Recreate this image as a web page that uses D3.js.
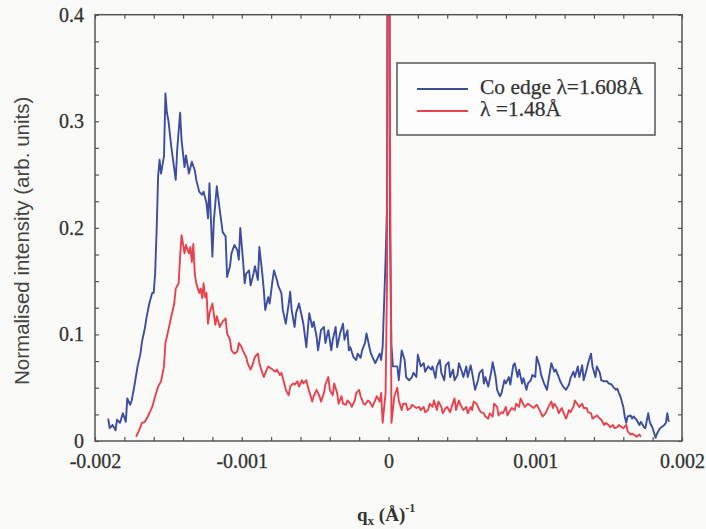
<!DOCTYPE html>
<html>
<head>
<meta charset="utf-8">
<script src="https://cdn.jsdelivr.net/npm/d3@7/dist/d3.min.js"></script>
<style>
  html, body { margin: 0; padding: 0; background: #fafaf8; }
  svg { display: block; }
</style>
</head>
<body>
<svg id="chart" width="706" height="529"></svg>
<script>
// ---------------- DATA ----------------
// q_x positions are given in units of 1e-5 Å^-1
const seriesNames = ["Co edge \u03bb=1.608\u00c5", "\u03bb =1.48\u00c5"];
const seriesColors = ["#3d4e9f", "#e8424f"];

const blueQ = [-191,-190,-188,-186,-185,-183,-181,-179,-178,-176,-175,-173,-171,-169,-168,-166,-165,-163,-161,-160,-159,-158,-157,-156,-155,-153,-152,-151,-150,-148,-145,-144,-142,-141,-139,-138,-136,-134,-132,-131,-129,-127,-126,-124,-123,-122,-120,-119,-117,-115,-113,-111,-110,-108,-107,-105,-103,-102,-101,-99,-98,-97,-95,-94,-92,-91,-89,-88,-86,-85,-84,-82,-81,-79,-78,-76,-75,-73,-72,-70,-68,-67,-66,-64,-63,-61,-60,-58,-56,-55,-54,-52,-51,-49,-48,-46,-44,-43,-41,-39,-38,-36,-35,-33,-31,-30,-28,-27,-26,-24,-22,-21,-19,-18,-16,-15,-13,-12,-10,-9,-7,-6,-5,-4,-2,-1,0,1,2,3,6,7,9,11,12,14,16,17,19,20,22,24,25,27,29,30,32,33,35,36,38,39,41,42,44,45,47,48,50,51,53,54,56,57,59,61,62,64,65,66,68,70,71,73,74,76,77,79,80,82,83,85,86,88,89,91,92,94,95,97,98,100,101,103,104,106,108,109,111,113,114,116,117,119,121,123,124,126,127,129,130,132,133,135,136,138,139,141,142,144,145,147,149,150,152,153,155,156,157,158,160,161,162,163,165,166,167,169,171,172,174,175,177,178,179,180,182,183,185,186,188,189,190,191];
const blueI = [0.021,0.012,0.015,0.010,0.020,0.017,0.026,0.018,0.040,0.034,0.038,0.053,0.070,0.082,0.093,0.106,0.115,0.129,0.139,0.139,0.158,0.198,0.248,0.264,0.251,0.267,0.326,0.308,0.301,0.276,0.245,0.273,0.308,0.282,0.257,0.268,0.251,0.262,0.254,0.245,0.234,0.231,0.234,0.223,0.209,0.242,0.173,0.207,0.239,0.217,0.196,0.192,0.154,0.164,0.176,0.184,0.179,0.170,0.200,0.167,0.148,0.157,0.160,0.146,0.157,0.164,0.151,0.182,0.157,0.142,0.123,0.135,0.129,0.151,0.160,0.151,0.145,0.139,0.123,0.110,0.129,0.140,0.123,0.107,0.120,0.129,0.123,0.110,0.088,0.104,0.120,0.107,0.112,0.098,0.085,0.104,0.107,0.092,0.104,0.085,0.095,0.107,0.088,0.101,0.110,0.095,0.104,0.085,0.088,0.079,0.076,0.082,0.078,0.085,0.092,0.101,0.088,0.082,0.076,0.073,0.079,0.082,0.076,0.088,0.170,0.220,0.900,0.200,0.090,0.070,0.070,0.057,0.085,0.076,0.060,0.057,0.060,0.064,0.060,0.081,0.070,0.073,0.065,0.070,0.067,0.070,0.059,0.070,0.076,0.064,0.057,0.071,0.074,0.060,0.067,0.057,0.062,0.073,0.065,0.060,0.070,0.060,0.071,0.064,0.048,0.057,0.064,0.067,0.054,0.060,0.051,0.065,0.074,0.060,0.048,0.042,0.045,0.057,0.054,0.060,0.053,0.071,0.073,0.060,0.067,0.054,0.059,0.048,0.054,0.057,0.062,0.060,0.079,0.070,0.062,0.054,0.048,0.057,0.073,0.065,0.067,0.060,0.056,0.051,0.048,0.053,0.059,0.065,0.060,0.070,0.060,0.071,0.057,0.067,0.073,0.082,0.070,0.060,0.070,0.064,0.057,0.056,0.056,0.054,0.053,0.051,0.048,0.049,0.045,0.042,0.032,0.023,0.017,0.023,0.024,0.021,0.023,0.020,0.015,0.018,0.013,0.012,0.026,0.018,0.015,0.012,0.003,0.007,0.012,0.013,0.015,0.017,0.026,0.018];

const redQ = [-172,-170,-168,-166,-164,-161,-159,-157,-155,-153,-152,-150,-148,-146,-145,-143,-142,-141,-140,-139,-138,-136,-135,-134,-133,-132,-131,-129,-128,-127,-126,-125,-124,-123,-122,-120,-118,-117,-115,-113,-111,-110,-108,-107,-105,-103,-102,-100,-99,-97,-96,-94,-93,-91,-89,-88,-86,-85,-83,-82,-80,-79,-77,-76,-74,-73,-71,-70,-68,-67,-65,-64,-62,-61,-59,-58,-56,-55,-53,-52,-51,-49,-47,-46,-44,-43,-41,-40,-38,-37,-35,-34,-32,-31,-29,-28,-26,-25,-23,-22,-20,-19,-17,-16,-14,-13,-11,-10,-8,-6,-5,-4,-2,-1,0,1,2,4,6,7,9,10,12,13,15,16,18,19,21,22,24,25,27,28,30,31,33,34,36,37,39,40,42,43,45,46,48,49,51,53,54,56,57,58,60,62,63,65,66,68,69,71,72,74,75,77,78,80,81,83,84,86,87,89,90,92,93,95,96,98,99,101,103,104,105,107,109,111,112,113,115,116,118,120,121,123,124,126,127,129,130,132,133,135,136,138,139,141,142,144,145,147,148,150,151,153,154,156,157,159,160,162,163,165,166,167,169,171,172];
const redI = [0.004,0.010,0.017,0.018,0.023,0.032,0.042,0.051,0.056,0.070,0.092,0.104,0.117,0.129,0.143,0.148,0.173,0.193,0.185,0.176,0.184,0.176,0.182,0.168,0.185,0.157,0.148,0.139,0.143,0.134,0.148,0.135,0.139,0.110,0.120,0.129,0.109,0.117,0.107,0.112,0.115,0.101,0.095,0.085,0.082,0.084,0.092,0.088,0.084,0.079,0.073,0.067,0.070,0.079,0.082,0.073,0.064,0.060,0.067,0.070,0.068,0.067,0.065,0.067,0.062,0.064,0.054,0.048,0.043,0.051,0.054,0.053,0.056,0.051,0.057,0.054,0.057,0.051,0.042,0.037,0.042,0.048,0.042,0.037,0.045,0.053,0.060,0.048,0.043,0.054,0.045,0.035,0.042,0.035,0.034,0.038,0.035,0.032,0.038,0.045,0.048,0.042,0.035,0.034,0.038,0.037,0.032,0.035,0.042,0.037,0.045,0.017,0.045,0.150,0.900,0.300,0.017,0.042,0.050,0.038,0.029,0.035,0.035,0.029,0.031,0.034,0.032,0.031,0.032,0.029,0.032,0.027,0.029,0.035,0.032,0.038,0.029,0.037,0.032,0.026,0.031,0.032,0.027,0.032,0.040,0.029,0.038,0.034,0.029,0.032,0.026,0.032,0.029,0.037,0.035,0.029,0.027,0.026,0.023,0.021,0.026,0.023,0.035,0.032,0.024,0.027,0.026,0.032,0.024,0.029,0.031,0.029,0.035,0.032,0.040,0.034,0.032,0.035,0.034,0.032,0.031,0.034,0.029,0.026,0.023,0.026,0.032,0.037,0.031,0.035,0.031,0.026,0.031,0.024,0.021,0.029,0.027,0.032,0.038,0.034,0.032,0.035,0.031,0.031,0.027,0.026,0.021,0.023,0.024,0.021,0.020,0.015,0.017,0.015,0.013,0.015,0.012,0.013,0.015,0.013,0.012,0.015,0.009,0.006,0.007,0.006,0.004,0.006,0.004];

const xTickLabels = [-0.002, -0.001, 0, 0.001, 0.002];
const yTickLabels = [0, 0.1, 0.2, 0.3, 0.4];
const xMinorStep = 0.0002;
const yMinorStep = 0.025;
const yAxisTitle = "Normalised intensity (arb. units)";

// ---------------- CHART ----------------
const svg = d3.select("#chart");
const L = 95, R = 682, T = 14.7, B = 441;
const x = d3.scaleLinear().domain([-0.002, 0.002]).range([L, R]);
const y = d3.scaleLinear().domain([0, 0.4]).range([B, T]);

const serif = "'Liberation Serif', 'Times New Roman', serif";
const sans = "'Liberation Sans', Arial, sans-serif";
const axisColor = "#555";
const textColor = "#333";

svg.append("defs").append("clipPath").attr("id", "clip")
  .append("rect").attr("x", L).attr("y", T).attr("width", R - L).attr("height", B - T);

const xTicks = d3.range(0, 21).map(i => +(-0.002 + i * xMinorStep).toFixed(4));
const yTicks = d3.range(0, 17).map(i => +(i * yMinorStep).toFixed(3));
const fmt = v => v === 0 ? "0" : String(v);
const isLabel = (arr, v) => arr.some(a => Math.abs(a - v) < 1e-9);

function styleAxis(g) {
  g.select(".domain").remove();
  g.selectAll(".tick line").attr("stroke", axisColor).attr("stroke-width", 1.2);
  g.selectAll(".tick text").attr("fill", textColor)
    .attr("font-family", serif).attr("font-size", 20)
    .attr("stroke", textColor).attr("stroke-width", 0.3);
}
svg.append("g").attr("transform", `translate(0,${B})`)
  .call(d3.axisBottom(x).tickValues(xTicks).tickSizeInner(-4).tickSizeOuter(0).tickPadding(13)
    .tickFormat(v => isLabel(xTickLabels, v) ? fmt(v) : ""))
  .call(styleAxis);
svg.append("g").attr("transform", `translate(0,${T})`)
  .call(d3.axisTop(x).tickValues(xTicks).tickSizeInner(-4).tickSizeOuter(0).tickFormat(""))
  .call(styleAxis);
svg.append("g").attr("transform", `translate(${L},0)`)
  .call(d3.axisLeft(y).tickValues(yTicks).tickSizeInner(-4).tickSizeOuter(0).tickPadding(11)
    .tickFormat(v => isLabel(yTickLabels, v) ? fmt(v) : ""))
  .call(styleAxis);
svg.append("g").attr("transform", `translate(${R},0)`)
  .call(d3.axisRight(y).tickValues(yTicks).tickSizeInner(-4).tickSizeOuter(0).tickFormat(""))
  .call(styleAxis);

// data lines
const seriesQ = [blueQ, redQ];
const seriesI = [blueI, redI];
const line = d3.line().x(d => x(d[0] * 1e-5)).y(d => y(d[1]));
const plot = svg.append("g").attr("clip-path", "url(#clip)");
seriesQ.forEach((qs, k) => {
  const pts = qs.map((q, i) => [q, seriesI[k][i]]);
  plot.append("path").datum(pts)
    .attr("d", line)
    .attr("fill", "none")
    .attr("stroke", seriesColors[k])
    .attr("stroke-width", 1.9)
    .attr("stroke-linejoin", "round");
});

// frame
svg.append("rect").attr("x", L).attr("y", T).attr("width", R - L).attr("height", B - T)
  .attr("fill", "none").attr("stroke", axisColor).attr("stroke-width", 1.5);

// legend
const lg = svg.append("g");
lg.append("rect").attr("x", 397).attr("y", 63).attr("width", 258).attr("height", 72)
  .attr("fill", "#fdfdfd").attr("stroke", axisColor).attr("stroke-width", 1.5);
seriesNames.forEach((name, i) => {
  const yy = 89 + i * 22;
  lg.append("line").attr("x1", 417).attr("x2", 468).attr("y1", yy).attr("y2", yy)
    .attr("stroke", seriesColors[i]).attr("stroke-width", 1.8);
  lg.append("text").attr("x", 480).attr("y", yy + 5)
    .attr("font-family", serif).attr("font-size", 21.5).attr("fill", textColor)
    .attr("stroke", textColor).attr("stroke-width", 0.25)
    .text(name);
});

// axis titles
const xt = svg.append("text").attr("x", 357).attr("y", 521)
  .attr("font-family", serif).attr("font-size", 19).attr("font-weight", "bold").attr("fill", textColor);
xt.append("tspan").text("q");
xt.append("tspan").attr("font-size", 13).attr("dy", 4).text("x");
xt.append("tspan").attr("dy", -4).text(" (\u00c5)");
xt.append("tspan").attr("font-size", 12).attr("dy", -9).text("-1");

svg.append("text")
  .attr("transform", `translate(29,${(T + B) / 2 + 13}) rotate(-90)`)
  .attr("text-anchor", "middle")
  .attr("font-family", sans).attr("font-size", 20.5).attr("fill", "#444")
  .text(yAxisTitle);
</script>
</body>
</html>
